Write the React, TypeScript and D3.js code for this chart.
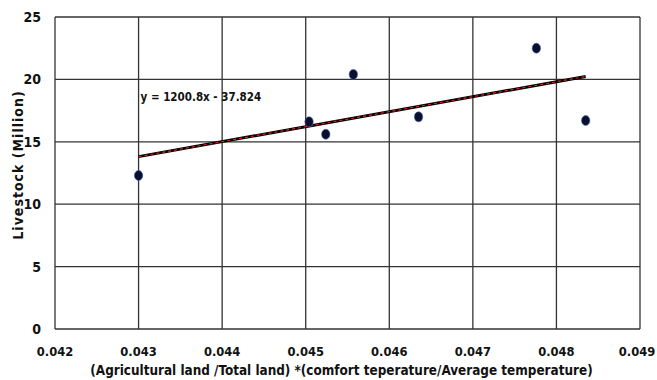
import React, { useEffect, useRef } from "react";
import * as d3 from "d3";

// values
const ratioX = [0.043, 0.04504, 0.04524, 0.04557, 0.04635, 0.04776, 0.04835];
const livestock = [12.3, 16.6, 15.6, 20.4, 17.0, 22.5, 16.7];
const xTicks = [0.042, 0.043, 0.044, 0.045, 0.046, 0.047, 0.048, 0.049];
const yTicks = [0, 5, 10, 15, 20, 25];
const slope = 1200.8;
const intercept = -37.824;
const equation = "y = 1200.8x - 37.824";

const W = 657;
const H = 380;
const FONT = "'DejaVu Sans Condensed', 'Liberation Sans Narrow', Arial, sans-serif";

const App = () => {
  const svgRef = useRef<SVGSVGElement>(null);

  useEffect(() => {
    const svg = d3.select(svgRef.current);
    svg.selectAll("*").remove();

    const margin = { top: 17, right: 17, bottom: 51, left: 55 };
    const width = W - margin.left - margin.right;
    const height = H - margin.top - margin.bottom;

    const g = svg
      .append("g")
      .attr("transform", `translate(${margin.left},${margin.top})`);

    const x = d3.scaleLinear().domain([0.042, 0.049]).range([0, width]);
    const y = d3.scaleLinear().domain([0, 25]).range([height, 0]);

    // grid
    g.append("g")
      .selectAll("line")
      .data(xTicks)
      .enter()
      .append("line")
      .attr("x1", (d) => x(d))
      .attr("x2", (d) => x(d))
      .attr("y1", 0)
      .attr("y2", height)
      .attr("stroke", "#333")
      .attr("stroke-width", 1.3);

    g.append("g")
      .selectAll("line")
      .data(yTicks)
      .enter()
      .append("line")
      .attr("x1", 0)
      .attr("x2", width)
      .attr("y1", (d) => y(d))
      .attr("y2", (d) => y(d))
      .attr("stroke", "#333")
      .attr("stroke-width", 1.3);

    // tick labels
    g.append("g")
      .selectAll("text")
      .data(yTicks)
      .enter()
      .append("text")
      .attr("x", -14)
      .attr("y", (d) => y(d))
      .attr("dy", "0.35em")
      .attr("text-anchor", "end")
      .style("font-family", FONT)
      .style("font-weight", "bold")
      .style("font-size", "14px")
      .style("fill", "#111")
      .text((d) => d);

    g.append("g")
      .selectAll("text")
      .data(xTicks)
      .enter()
      .append("text")
      .attr("x", (d) => Math.min(x(d), width - 3))
      .attr("y", height + 23)
      .attr("dy", "0.35em")
      .attr("text-anchor", "middle")
      .style("font-family", FONT)
      .style("font-weight", "bold")
      .style("font-size", "12.8px")
      .style("fill", "#111")
      .text((d) => d3.format(".3f")(d));

    // axis titles
    g.append("text")
      .attr("x", width / 2 - 6)
      .attr("y", height + 41)
      .attr("dy", "0.35em")
      .attr("text-anchor", "middle")
      .style("font-family", FONT)
      .style("font-weight", "bold")
      .style("font-size", "13.4px")
      .style("fill", "#111")
      .text("(Agricultural land /Total land) *(comfort  teperature/Average temperature)");

    g.append("text")
      .attr("transform", `translate(${18 - margin.left},${165 - margin.top}) rotate(-90)`)
      .attr("dy", "0.35em")
      .attr("text-anchor", "middle")
      .style("font-family", FONT)
      .style("font-weight", "bold")
      .style("font-size", "14px")
      .style("letter-spacing", "1px")
      .style("fill", "#111")
      .text("Livestock  (Million)");

    // trendline
    const x0 = d3.min(ratioX) as number;
    const x1 = d3.max(ratioX) as number;
    const trend = [x0, x1].map((v) => [x(v), y(slope * v + intercept)] as [number, number]);
    const line = d3.line();

    g.append("path")
      .attr("d", line(trend))
      .attr("stroke", "#000")
      .attr("stroke-width", 3)
      .attr("fill", "none");

    g.append("path")
      .attr("d", line(trend))
      .attr("stroke", "#e0201a")
      .attr("stroke-width", 1.2)
      .attr("stroke-dasharray", "3,3")
      .attr("fill", "none");

    g.append("text")
      .attr("x", x(0.043) + 2)
      .attr("y", 80)
      .attr("dy", "0.35em")
      .style("font-family", FONT)
      .style("font-weight", "bold")
      .style("font-size", "11.5px")
      .style("fill", "#111")
      .text(equation);

    // points
    g.append("g")
      .selectAll("ellipse")
      .data(ratioX.map((v, i) => [v, livestock[i]]))
      .enter()
      .append("ellipse")
      .attr("cx", (d) => x(d[0]))
      .attr("cy", (d) => y(d[1]))
      .attr("rx", 4.2)
      .attr("ry", 5)
      .attr("fill", "#0b0f2e")
      .attr("stroke", "#3a6fb0")
      .attr("stroke-width", 0.6);
  }, []);

  return (
    <svg
      ref={svgRef}
      width={W}
      height={H}
      style={{ position: "fixed", left: 0, top: 0, background: "#fff" }}
    />
  );
};

export default App;
